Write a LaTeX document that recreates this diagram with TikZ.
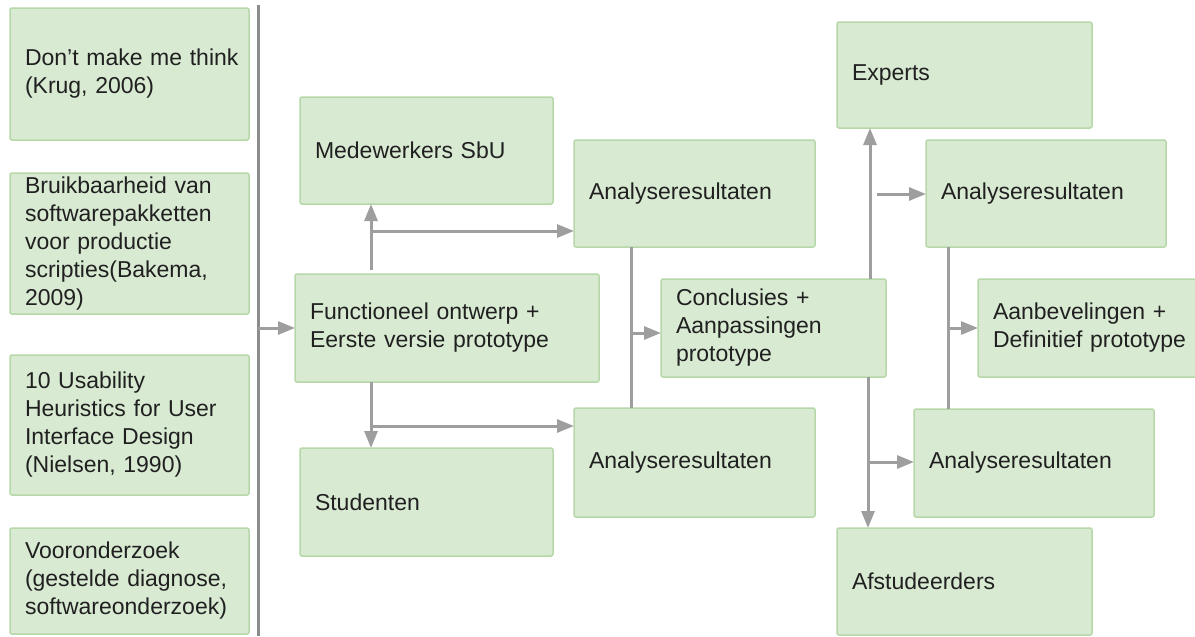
\documentclass[tikz,border=0pt]{standalone}
\usepackage{fontspec}
\setmainfont{Liberation Sans}
\usetikzlibrary{arrows.meta}
\definecolor{boxfill}{HTML}{D9EAD3}
\definecolor{boxborder}{HTML}{B6D7A8}
\definecolor{arrgrey}{HTML}{9E9E9E}
\definecolor{sepgrey}{HTML}{8C8C8C}
\definecolor{txt}{HTML}{202020}
\begin{document}
\begin{tikzpicture}[x=1pt,y=-1pt,
  box/.style={draw=boxborder, fill=boxfill, line width=1.5pt, rounded corners=2pt,
    align=left, inner xsep=15pt, inner ysep=0pt, outer sep=0pt, anchor=north west,
    text=txt, font=\fontsize{23}{28}\selectfont},
  conn/.style={draw=arrgrey, line width=3pt},
  arr/.style={conn, -{Triangle[length=17pt,width=13pt]}},
  sepline/.style={draw=sepgrey, line width=3pt}]
\useasboundingbox (0,0) rectangle (1195,637);
% left column
\node[box, text width=209pt, minimum height=132pt] (l1) at (10,8) {\mbox{Don’t make me think}\\(Krug, 2006)};
\node[box, text width=209pt, minimum height=141pt] (l2) at (10,173) {Bruikbaarheid van\\softwarepakketten\\voor productie\\scripties(Bakema,\\2009)};
\node[box, text width=209pt, minimum height=140pt] (l3) at (10,355) {10 Usability\\Heuristics for User\\Interface Design\\(Nielsen, 1990)};
\node[box, text width=209pt, minimum height=106pt] (l4) at (10,528) {Vooronderzoek\\(gestelde diagnose,\\softwareonderzoek)};
% middle
\node[box, text width=274pt, minimum height=108pt] (f) at (295,274) {Functioneel ontwerp +\\Eerste versie prototype};
\node[box, text width=223pt, minimum height=107pt] (m) at (300,97) {Medewerkers SbU};
\node[box, text width=223pt, minimum height=108pt] (s) at (300,448) {Studenten};
\node[box, text width=211pt, minimum height=107pt] (a1) at (574,140) {Analyseresultaten};
\node[box, text width=211pt, minimum height=109pt] (a2) at (574,408) {Analyseresultaten};
\node[box, text width=195pt, minimum height=98pt] (c) at (661,279) {Conclusies +\\Aanpassingen\\prototype};
% right
\node[box, text width=225pt, minimum height=106pt] (e) at (837,22) {Experts};
\node[box, text width=225pt, minimum height=107pt] (af) at (837,528) {Afstudeerders};
\node[box, text width=210pt, minimum height=107pt] (r1) at (926,140) {Analyseresultaten};
\node[box, text width=210pt, minimum height=108pt] (r2) at (914,409) {Analyseresultaten};
\node[box, text width=200pt, minimum height=98pt] (b) at (978,279) {Aanbevelingen +\\Definitief prototype};
% separator
\coordinate (sept) at (258,5);
\coordinate (sepb) at (258,636);
\draw[sepline] (sept) -- (sepb);
\draw[arr] (sept |- f.west) -- (f.west);
% from Functioneel
\coordinate (fu) at (371,270);
\draw[arr] (fu) -- (fu |- m.south);
\coordinate (b1) at (371,231);
\draw[arr] (b1) -- (b1 -| a1.west);
\coordinate (fd) at (371,382);
\draw[arr] (fd) -- (fd |- s.north);
\coordinate (b2) at (371,426);
\draw[arr] (b2) -- (b2 -| a2.west);
% analyse -> conclusies
\coordinate (v1) at (631,333);
\draw[conn] (v1 |- a1.south) -- (v1 |- a2.north);
\draw[arr] (v1) -- (v1 -| c.west);
% from Conclusies
\coordinate (cu) at (870,279);
\draw[arr] (cu) -- (cu |- e.south);
\coordinate (b3) at (877,194);
\draw[arr] (b3) -- (b3 -| r1.west);
\coordinate (cd) at (868,377);
\draw[arr] (cd) -- (cd |- af.north);
\coordinate (b4) at (868,462);
\draw[arr] (b4) -- (b4 -| r2.west);
% analyse -> aanbevelingen
\coordinate (v2) at (948,328);
\draw[conn] (v2 |- r1.south) -- (v2 |- r2.north);
\draw[arr] (v2) -- (v2 -| b.west);
\end{tikzpicture}
\end{document}
